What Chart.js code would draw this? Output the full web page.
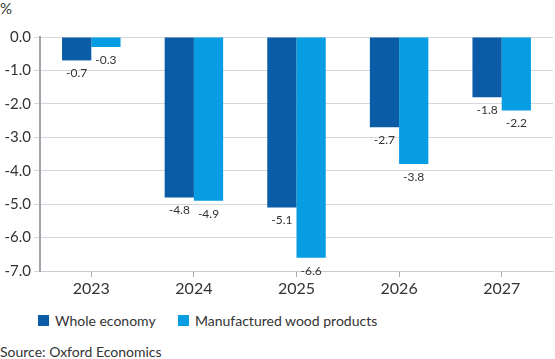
<!DOCTYPE html>
<html>
<head>
<meta charset="utf-8">
<script src="https://cdn.jsdelivr.net/npm/chart.js@4"></script>
<style>
  body { margin: 0; width: 555px; height: 359px; position: relative; overflow: hidden; background: #fff; font-family: Lato, "Noto Sans", sans-serif; color: #333; }
  #unit { position: absolute; left: 0; top: -1px; font-size: 15px; }
  #box { position: absolute; left: 0; top: 0; width: 555px; height: 300px; }
  .leg { position: absolute; top: 312px; font-size: 14px; display: flex; align-items: center; }
  .leg i { display: inline-block; width: 11px; height: 11px; margin-right: 6px; }
  #source { position: absolute; left: 0; top: 343px; font-size: 14px; }
</style>
</head>
<body>
<div id="unit">%</div>
<div id="box"><canvas id="barChart"></canvas></div>
<div class="leg" style="left:38px"><i style="background:#0a5ca6"></i>Whole economy</div>
<div class="leg" style="left:178px"><i style="background:#069de2"></i>Manufactured wood products</div>
<div id="source">Source: Oxford Economics</div>
<script>
const years = ['2023', '2024', '2025', '2026', '2027'];
const wholeEconomy = [-0.7, -4.8, -5.1, -2.7, -1.8];
const woodProducts = [-0.3, -4.9, -6.6, -3.8, -2.2];

// value labels under each bar end
const barLabels = {
    id: 'barLabels',
    afterDatasetsDraw(chart) {
        const c = chart.ctx;
        c.save();
        c.font = '12px Lato, "Noto Sans", sans-serif';
        c.fillStyle = '#333';
        c.textAlign = 'center';
        c.textBaseline = 'top';
        chart.data.datasets.forEach((ds, i) => {
            chart.getDatasetMeta(i).data.forEach((bar, j) => {
                c.fillText(ds.data[j].toFixed(1), bar.x, bar.y + 7);
            });
        });
        c.restore();
    }
};

var ctx = document.getElementById('barChart').getContext('2d');
var myChart = new Chart(ctx, {
    type: 'bar',
    data: {
        labels: years,
        datasets: [{
            label: 'Whole economy',
            data: wholeEconomy,
            backgroundColor: '#0a5ca6'
        }, {
            label: 'Manufactured wood products',
            data: woodProducts,
            backgroundColor: '#069de2'
        }]
    },
    options: {
        responsive: true,
        maintainAspectRatio: false,
        animation: false,
        layout: { padding: { top: 37, right: 2, left: 0, bottom: 0 } },
        categoryPercentage: 0.57,
        barPercentage: 1,
        plugins: { legend: { display: false }, tooltip: { enabled: false } },
        scales: {
            x: {
                grid: { offset: false, drawOnChartArea: false, drawTicks: true, tickLength: 6, color: '#a9aeb4' },
                border: { color: '#c9ccd1' },
                ticks: { color: '#333', padding: 2, font: { family: 'Lato', size: 16 } },
                afterFit(s) { s.height = 29; }
            },
            y: {
                min: -7, max: 0,
                grid: { color: '#d4d7db', tickLength: 6 },
                border: { color: '#9ea4ab', width: 2 },
                ticks: {
                    stepSize: 1, color: '#333', padding: 3,
                    font: { family: 'Lato', size: 15 },
                    callback: v => v.toFixed(1)
                },
                afterFit(s) { s.width = 40; }
            }
        }
    },
    plugins: [barLabels]
});
</script>
</body>
</html>
